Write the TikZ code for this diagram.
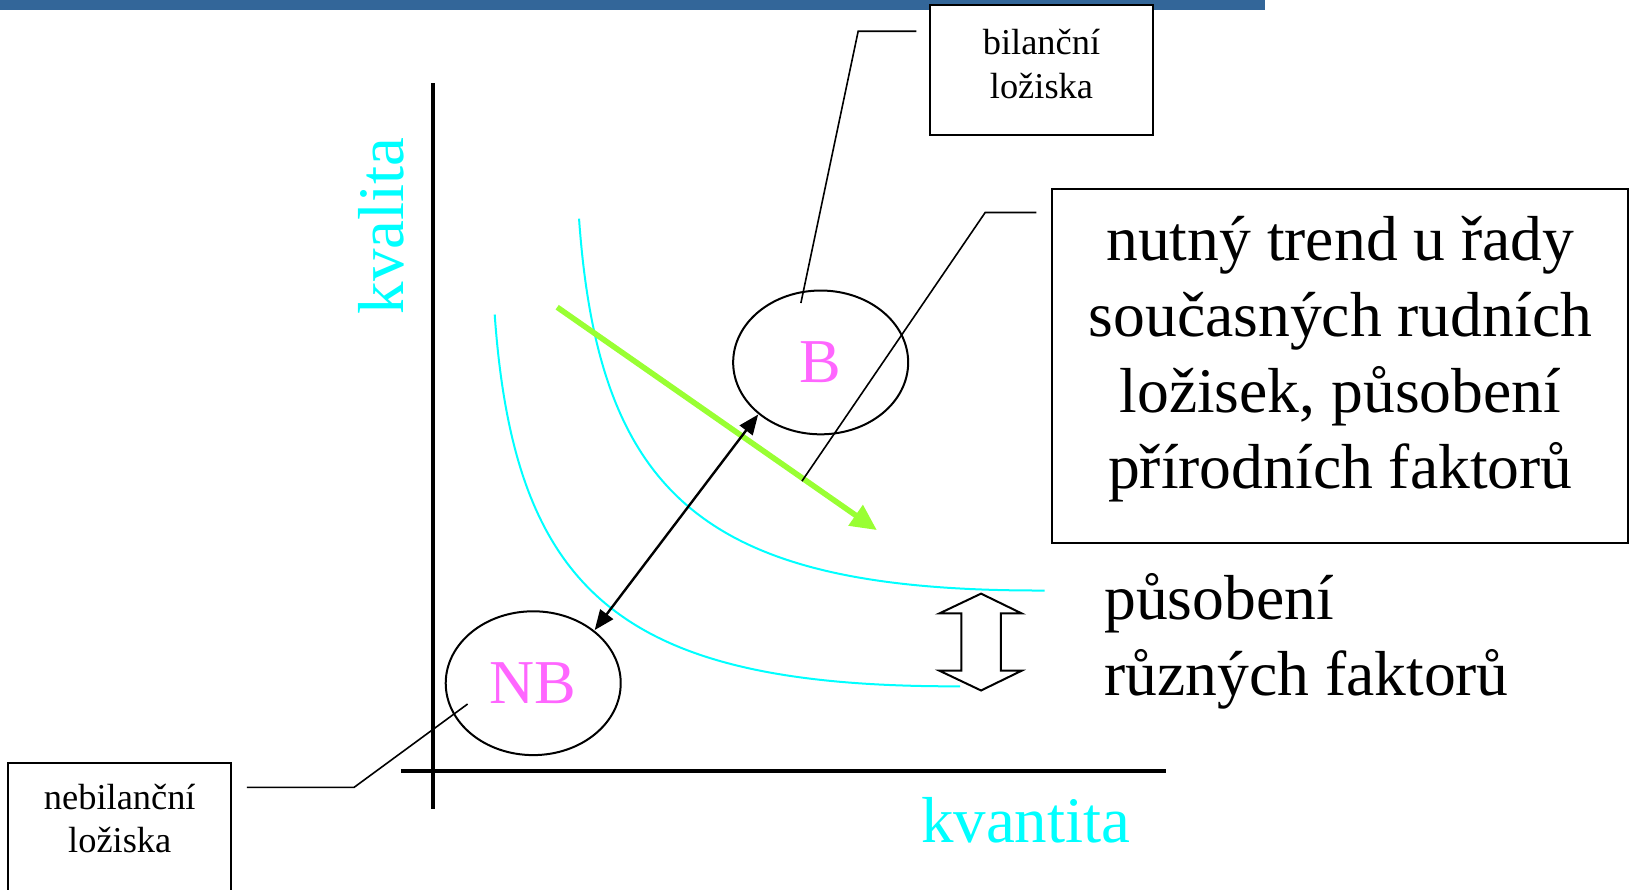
\documentclass[tikz,border=0pt]{standalone}
\usepackage{fontspec}
\setmainfont{Liberation Serif}
\usetikzlibrary{arrows.meta,shapes.geometric}
\definecolor{barblue}{HTML}{336699}
\definecolor{cyanc}{HTML}{00FFFF}
\definecolor{magc}{HTML}{FF66FF}
\definecolor{greenc}{HTML}{99FF33}
\begin{document}
\begin{tikzpicture}[x=0.5207pt,y=-0.5207pt,
  box/.style={draw, line width=1pt, fill=white, inner sep=0pt},
  smalltext/.style={font=\fontsize{18.2}{21.9}\selectfont, inner sep=0pt},
  bigtext/.style={font=\fontsize{31.8}{38}\selectfont, inner sep=0pt},
  axistext/.style={font=\fontsize{32.5}{39}\selectfont, inner sep=0pt, text=cyanc},
  ell/.style={draw, line width=1pt, ellipse, inner sep=0pt, minimum width=87.5pt, minimum height=71.9pt, text=magc, font=\fontsize{31.2}{37}\selectfont},
  leader/.style={draw, line width=0.8pt},
  curve/.style={draw=cyanc, line width=1pt}]
\useasboundingbox (0,0) rectangle (1568,854);
% top bar
\fill[barblue] (0,0) rectangle (1215,10);
% axes
\coordinate (ytop) at (416,80);
\coordinate (ybot) at (416,777);
\coordinate (xl) at (385,740);
\coordinate (xr) at (1120,740);
\draw[line width=2.1pt] (ytop) -- (ybot);
\draw[line width=2.1pt] (xl) -- (xr);
\node[axistext, rotate=90, anchor=base west] (kvalita) at (387,302) {kvalita};
\node[axistext, anchor=base west] (kvantita) at (884,809) {kvantita};
% cyan curves
\path[curve] (556,210) .. controls (575,480) and (680,568) .. (1003,567);
\path[curve, shift={(-81,92)}] (556,210) .. controls (575,480) and (680,568) .. (1003,567);
% ellipses
\node[ell] (B) at (788,348) {B};
\node[ell] (NB) at (512,656) {NB};
% green arrow
\coordinate (g1) at (535,295);
\coordinate (g2) at (842,509);
\draw[greenc, line width=2.8pt, -{Triangle[length=13pt,width=12pt]}] (g1) -- (g2);
% double arrow
\coordinate (d1) at (728,398);
\coordinate (d2) at (571,605);
\draw[line width=1.2pt, {Triangle[length=10pt,width=8pt]}-{Triangle[length=10pt,width=8pt]}] (d1) -- (d2);
% hollow up-down arrow
\draw[line width=1pt, fill=white] (942,570) -- (981,589) -- (961,589) -- (961,644) -- (981,644) -- (942,663) -- (902,644) -- (923,644) -- (923,589) -- (902,589) -- cycle;
% bilancni box
\node[box, minimum width=111.4pt, minimum height=65.1pt] (bil) at (1000,67.5) {};
\node[smalltext, anchor=base] (bil1) at (1000,52) {bilanční};
\node[smalltext, anchor=base] (bil2) at (1000,95) {ložiska};
\coordinate (bA) at (880,30);
\coordinate (bB) at (824,30);
\coordinate (bC) at (769,291);
\draw[leader] (bA) -- (bB) -- (bC);
% big box
\node[box, minimum width=287.9pt, minimum height=177pt] (big) at (1286.5,351) {};
\node[bigtext, align=center] (bigt) at (1287,345) {nutný trend u řady\\současných rudních\\ložisek, působení\\přírodních faktorů};
\coordinate (cA) at (995,204);
\coordinate (cB) at (946,204);
\coordinate (cC) at (770,462);
\draw[leader] (cA) -- (cB) -- (cC);
% pusobeni
\node[bigtext, anchor=base west] (p1) at (1060,595) {působení};
\node[bigtext, anchor=base west] (p2) at (1060,668) {různých faktorů};
% nebilancni box
\node[box, minimum width=111.4pt, minimum height=76.5pt] (nebil) at (115,806.5) {};
\node[smalltext, anchor=base] (nb1) at (115,777) {nebilanční};
\node[smalltext, anchor=base] (nb2) at (115,819) {ložiska};
\coordinate (nA) at (237,756);
\coordinate (nB) at (340,756);
\coordinate (nC) at (449,676);
\draw[leader] (nA) -- (nB) -- (nC);
\end{tikzpicture}
\end{document}
